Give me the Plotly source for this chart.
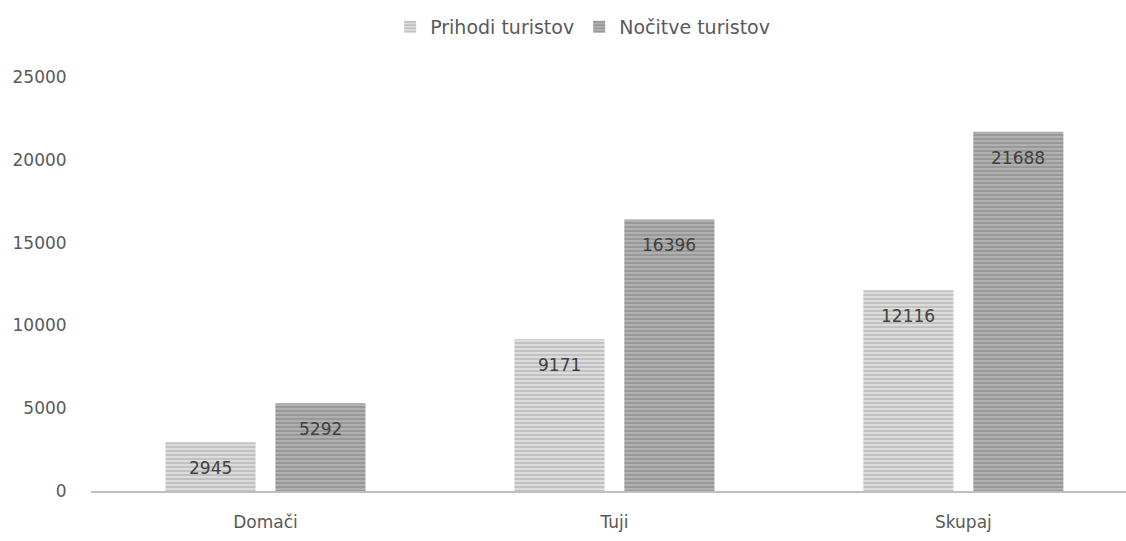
import plotly.graph_objects as go

categories = ["Domači", "Tuji", "Skupaj"]
prihodi = [2945, 9171, 12116]
nocitve = [5292, 16396, 21688]
series_names = ["Prihodi turistov", "Nočitve turistov"]
y_ticks = [0, 5000, 10000, 15000, 20000, 25000]

font_family = "DejaVu Sans, Open Sans, sans-serif"
fsize = 17

fig = go.Figure()
fig.add_trace(go.Bar(
    name=series_names[0], x=categories, y=prihodi,
    marker=dict(color="#dcdcdc", line=dict(width=0),
                pattern=dict(shape="-", fgcolor="#a0a0a0", size=4, solidity=0.45)),
))
fig.add_trace(go.Bar(
    name=series_names[1], x=categories, y=nocitve,
    marker=dict(color="#b0b0b0", line=dict(width=0),
                pattern=dict(shape="-", fgcolor="#7a7a7a", size=4, solidity=0.45)),
))

# value labels placed just inside the top of each bar
annotations = []
for vals, shift in ((prihodi, -55), (nocitve, 55)):
    for cat, v in zip(categories, vals):
        annotations.append(dict(
            x=cat, y=v, xref="x", yref="y", text=str(v), showarrow=False,
            xshift=shift, yshift=-26,
            font=dict(family=font_family, size=fsize, color="#404040"),
        ))

fig.update_layout(
    width=1126, height=541,
    margin=dict(l=91, r=0, t=77, b=50),
    paper_bgcolor="white", plot_bgcolor="white",
    barmode="group", bargap=0.37, bargroupgap=0.18,
    font=dict(family=font_family, size=fsize, color="#595959"),
    legend=dict(orientation="h", x=0.475, xanchor="center", y=1.121, yanchor="middle",
                font=dict(family=font_family, size=19, color="#595959"),
                itemwidth=30, traceorder="normal"),
    annotations=annotations,
    showlegend=True,
)
fig.update_xaxes(
    range=[-0.5, 2.466], showline=True, linecolor="#bfbfbf", linewidth=1.5,
    ticks="outside", ticklen=15, tickcolor="white", showgrid=False,
    tickfont=dict(size=fsize, color="#595959"),
)
fig.update_yaxes(
    range=[0, 25000], tickvals=y_ticks, tickformat="d", showgrid=False,
    zeroline=False, showline=False, ticks="outside", ticklen=20, tickcolor="white",
    tickfont=dict(size=fsize, color="#595959"),
)

fig.write_html("out.html")
